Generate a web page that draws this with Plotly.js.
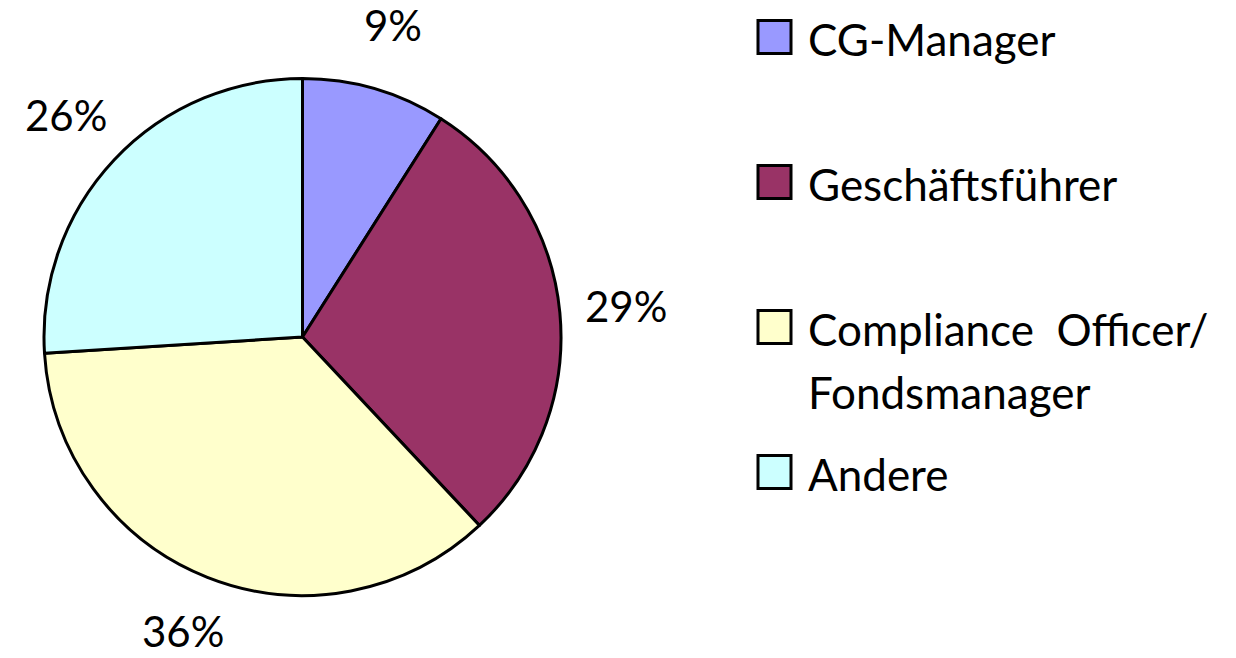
<!DOCTYPE html>
<html>
<head>
<meta charset="utf-8">
<script src="https://cdn.plot.ly/plotly-3.0.1.min.js"></script>
<style>html,body{margin:0;padding:0;background:#fff;}#chart{width:1236px;height:658px;}</style>
</head>
<body>
<div id="chart"></div>
<script>
var labels = ["CG-Manager", "Geschäftsführer", "Compliance Officer/ Fondsmanager", "Andere"];
var values = [9, 29, 36, 26];
var colors = ["#9999FF", "#993366", "#FFFFCC", "#CCFFFF"];

var W = 1236, H = 658;
var FONT = "Lato, 'Open Sans', sans-serif";
// pie geometry (pixels)
var cx = 302.5, cy = 337, R = 258.5, labelR = 325;
function px2x(p){ return p / W; }
function py2y(p){ return 1 - p / H; }

var total = values.reduce(function(a,b){return a+b;}, 0);
var annotations = [];
var cum = 0;
values.forEach(function(v){
  var mid = (cum + v/2) / total * 2 * Math.PI;
  cum += v;
  var ly = Math.min(cy - labelR * Math.cos(mid), H - 27);
  annotations.push({
    xref: 'paper', yref: 'paper',
    x: px2x(cx + labelR * Math.sin(mid)),
    y: py2y(ly),
    xanchor: 'center', yanchor: 'middle',
    text: Math.round(v / total * 100) + '%',
    showarrow: false,
    font: {family: FONT, size: 42, color: '#000'}
  });
});

// custom legend (large square keys as in reference)
var shapes = [];
var legTop = 37, legStep = 145, sq = 33, sqX = 758, txtX = 806, lineStep = 63;
labels.forEach(function(lab, i){
  var yc = legTop + i * legStep;
  shapes.push({
    type: 'rect', xref: 'paper', yref: 'paper',
    x0: px2x(sqX), x1: px2x(sqX + sq),
    y0: py2y(yc + sq/2), y1: py2y(yc - sq/2),
    fillcolor: colors[i], line: {color: '#000', width: 3}
  });
  var lines = lab.split('/ ');
  lines.forEach(function(t, j){
    var txt = (j < lines.length - 1) ? t.replace(' ', '&nbsp;&nbsp;') + '/' : t;
    annotations.push({
      xref: 'paper', yref: 'paper',
      x: px2x(txtX), y: py2y(yc + 2 + j * lineStep),
      xanchor: 'left', yanchor: 'middle', align: 'left',
      text: txt,
      showarrow: false,
      font: {family: FONT, size: 44, color: '#000'}
    });
  });
});

var trace = {
  type: 'pie',
  labels: labels,
  values: values,
  sort: false,
  direction: 'clockwise',
  rotation: 0,
  textinfo: 'none',
  hoverinfo: 'label+percent',
  marker: {colors: colors, line: {color: '#000', width: 3}},
  domain: {
    x: [px2x(cx - R), px2x(cx + R)],
    y: [py2y(cy + R), py2y(cy - R)]
  },
  showlegend: false
};

var layout = {
  width: W, height: H,
  margin: {l: 0, r: 0, t: 0, b: 0},
  paper_bgcolor: '#fff',
  plot_bgcolor: '#fff',
  showlegend: false,
  font: {family: FONT},
  annotations: annotations,
  shapes: shapes
};

Plotly.newPlot('chart', [trace], layout, {displayModeBar: false, staticPlot: true});
</script>
</body>
</html>
